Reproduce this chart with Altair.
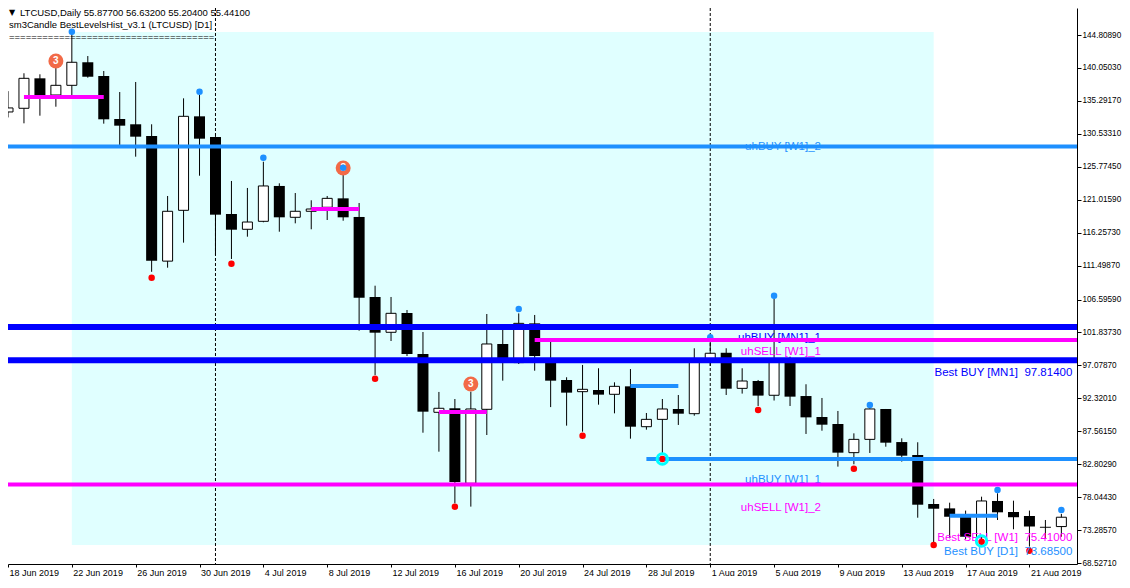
import altair as alt
import pandas as pd

# ---------------- data ----------------
dates = pd.date_range("2019-06-18", periods=67, freq="D").strftime("%Y-%m-%d").tolist()

opens = [133.69, 134.22, 138.55, 136.14, 137.54, 140.87, 138.89, 132.67, 131.91, 130.22,
         112.14, 119.48, 133.06, 130.07, 118.95, 116.74, 117.89, 123.00, 118.47, 119.34,
         119.92, 121.21, 118.52, 106.96, 101.86, 104.65, 98.72, 90.30, 90.88, 80.04,
         90.73, 100.17, 97.48, 103.15, 97.61, 94.97, 93.28, 93.52, 92.90, 94.05,
         88.22, 89.28, 90.78, 90.10, 97.90, 98.90, 93.76, 94.82, 92.76, 97.61,
         92.65, 89.62, 88.61, 84.47, 86.39, 90.78, 86.00, 84.13, 77.05, 76.42,
         75.21, 72.32, 77.49, 75.90, 75.33, 73.76, 73.79]
highs = [136.70, 139.28, 139.13, 140.23, 145.05, 141.77, 139.61, 136.57, 138.02, 131.91,
         121.55, 135.66, 136.14, 130.20, 123.72, 122.71, 126.50, 123.38, 121.98, 120.93,
         121.55, 124.83, 120.54, 108.59, 106.96, 105.08, 101.90, 93.24, 92.22, 93.28,
         104.50, 102.19, 104.59, 104.36, 100.50, 95.36, 97.14, 96.66, 94.63, 96.55,
         90.20, 92.22, 92.80, 99.55, 100.60, 99.55, 96.66, 94.97, 106.78, 98.33,
         94.35, 92.37, 90.49, 87.26, 90.88, 90.78, 86.54, 85.97, 77.78, 77.24,
         76.10, 78.11, 78.60, 77.53, 76.10, 74.74, 75.62]
lows = [132.90, 132.05, 133.15, 134.45, 136.14, 138.64, 132.00, 128.92, 127.23, 110.60,
        111.19, 114.81, 124.48, 113.03, 112.45, 115.67, 117.75, 116.39, 117.60, 116.74,
        118.08, 117.98, 102.09, 95.69, 100.60, 98.43, 87.35, 84.61, 77.15, 76.67,
        87.02, 94.87, 97.28, 96.31, 91.05, 88.37, 87.50, 91.40, 90.15, 86.49,
        87.79, 84.20, 88.47, 89.81, 97.00, 92.80, 93.00, 91.21, 92.00, 91.21,
        87.17, 87.64, 82.45, 82.79, 84.42, 85.33, 83.18, 75.07, 71.40, 72.10,
        71.95, 71.90, 74.74, 73.40, 70.90, 72.10, 72.32]
closes = [134.27, 138.55, 136.14, 137.54, 140.87, 138.78, 132.63, 131.71, 130.12, 112.20,
          119.34, 133.06, 129.83, 118.85, 116.68, 117.79, 123.00, 118.47, 119.34, 119.67,
          121.21, 118.47, 106.85, 101.80, 104.60, 98.72, 90.39, 90.88, 80.23, 90.78,
          100.17, 97.48, 103.15, 98.43, 94.87, 93.14, 93.62, 92.85, 94.05, 88.22,
          89.28, 90.78, 90.10, 97.86, 98.83, 93.71, 94.82, 92.71, 97.61, 92.56,
          89.57, 88.51, 84.47, 86.39, 90.78, 85.91, 84.03, 76.95, 76.37, 75.21,
          72.32, 77.49, 75.85, 75.14, 73.79, 73.62, 75.14]

# markers (index of the day, price of the marker)
blue_dot_idx = [4, 12, 16, 21, 32, 44, 48, 54, 62, 66]
blue_dot_price = [145.29, 136.62, 127.08, 125.64, 105.22, 101.14, 107.15, 91.35, 79.08, 76.19]
red_dot_idx = [9, 14, 23, 28, 36, 41, 47, 53, 58, 61, 64]
red_dot_price = [109.75, 111.77, 95.16, 76.67, 86.92, 83.56, 90.63, 82.15, 71.13, 71.61, 70.31]
orange_idx = [3, 21, 29]
orange_price = [141.05, 125.59, 94.39]
ring_idx = [41, 61]
ring_price = [83.56, 71.70]

# full-width levels
full_price = [128.70, 102.62, 97.814, 79.87]
full_color = ["#1E90FF", "#0000FF", "#0000FF", "#FF00FF"]
full_width = [4, 6, 6, 4]

# partial levels (start day index, end day index, -1 = right edge)
seg_start = [1, 19, 27, 39, 59, 33, 40]
seg_end = [6, 22, 30, 42, 62, -1, -1]
seg_price = [135.85, 119.67, 90.34, 94.10, 75.36, 100.74, 83.55]
seg_color = ["#FF00FF", "#FF00FF", "#FF00FF", "#1E90FF", "#1E90FF", "#FF00FF", "#1E90FF"]

# level labels: names in the middle (right-aligned), "Best" values at the right edge
mid_text = ["uhBUY [W1]_2", "uhBUY [MN1]_1", "uhSELL [W1]_1", "uhBUY [W1]_1", "uhSELL [W1]_2"]
mid_price = [128.70, 100.99, 99.06, 80.52, 76.43]
mid_color = ["#1E90FF", "#0000FF", "#FF00FF", "#1E90FF", "#FF00FF"]
mid_idx = 51
best_text = ["Best BUY [MN1]\u00a0\u00a097.81400", "Best SELL [W1]\u00a0\u00a075.41000",
             "Best BUY [D1]\u00a0\u00a073.68500"]
best_price = [95.93, 72.10, 70.16]
best_color = ["#0000FF", "#FF00FF", "#1E90FF"]
best_idx = 66

# background zone and separators
zone_start, zone_end = "2019-06-22", "2019-08-15"
zone_top, zone_bottom = 145.24, 71.13
separators = ["2019-07-01", "2019-08-01"]

ytick_values = [144.80890, 140.05030, 135.29170, 130.53310, 125.77450, 121.01590, 116.25730,
                111.49870, 106.59590, 101.83730, 97.07870, 92.32010, 87.56150, 82.80290,
                78.04430, 73.28570, 68.52710]
xtick_dates = dates[::4]

header1 = "LTCUSD,Daily  55.87700 56.63200 55.20400 55.44100"
header2 = "sm3Candle BestLevelsHist_v3.1  (LTCUSD) [D1]"
header3 = "=" * 37

# ---------------- scales / axes ----------------
def ms(s):
    return int(pd.Timestamp(s, tz="UTC").value // 10**6)

x_lo, x_hi = "2019-06-18T00:00:00", "2019-08-23T23:31:00"
y_lo, y_hi = 68.383, 148.710

XS = alt.Scale(type="utc", domain=[ms(x_lo), ms(x_hi)], nice=False, padding=0)
YS = alt.Scale(domain=[y_lo, y_hi], nice=False, zero=False, padding=0)
FONT = "Liberation Sans"
XA = alt.Axis(values=[ms(d) for d in xtick_dates], format="%-d %b %Y", labelAlign="left",
              labelOffset=1, tickSize=3, labelPadding=1, grid=False, domainColor="black",
              tickColor="black", labelColor="black", labelFont=FONT, labelFontSize=9,
              labelFlush=False, labelOverlap=False, title=None)
YA = alt.Axis(orient="right", values=ytick_values, format=".5f", tickSize=4, labelPadding=1,
              grid=False, domainColor="black", tickColor="black", labelColor="black",
              labelFont=FONT, labelFontSize=8.2, labelOverlap=False, labelFlush=False, title=None)


def X(f):
    return alt.X(f"{f}:T", scale=XS, axis=XA, title=None)


def X2(f):
    return alt.X2(f"{f}:T")


def Y(f):
    return alt.Y(f"{f}:Q", scale=YS, axis=YA, title=None)


def Y2(f):
    return alt.Y2(f"{f}:Q")


# ---------------- tables ----------------
ohlc = pd.DataFrame({"date": dates, "open": opens, "high": highs, "low": lows, "close": closes})
up = ohlc[ohlc.close >= ohlc.open]
down = ohlc[ohlc.close < ohlc.open]

zone = pd.DataFrame({"s": [zone_start], "e": [zone_end], "t": [zone_top], "b": [zone_bottom]})
seps = pd.DataFrame({"date": separators})
blue = pd.DataFrame({"date": [dates[i] for i in blue_dot_idx], "p": blue_dot_price})
red = pd.DataFrame({"date": [dates[i] for i in red_dot_idx], "p": red_dot_price})
orange = pd.DataFrame({"date": [dates[i] for i in orange_idx], "p": orange_price})
rings = pd.DataFrame({"date": [dates[i] for i in ring_idx], "p": ring_price})
full = pd.DataFrame({"p": full_price, "c": full_color, "w": full_width})
segs = pd.DataFrame({
    "s": [dates[i] for i in seg_start],
    "e": [dates[i] if i >= 0 else x_hi for i in seg_end],
    "p": seg_price, "c": seg_color,
})
mid_labels = pd.DataFrame({"date": dates[mid_idx], "p": mid_price, "t": mid_text, "c": mid_color})
best_labels = pd.DataFrame({"date": dates[best_idx], "p": best_price, "t": best_text, "c": best_color})

# ---------------- layers ----------------
zone_l = alt.Chart(zone).mark_rect(color="#E0FFFF").encode(
    x=X("s"), x2=X2("e"), y=Y("t"), y2=Y2("b"))
sep_l = alt.Chart(seps).mark_rule(color="black", strokeWidth=1, strokeDash=[3, 2]).encode(x=X("date"))
wick_l = alt.Chart(ohlc).mark_rule(color="black", strokeWidth=1).encode(
    x=X("date"), y=Y("low"), y2=Y2("high"))
up_l = alt.Chart(up).mark_bar(size=10, fill="white", stroke="black", strokeWidth=1).encode(
    x=X("date"), y=Y("open"), y2=Y2("close"))
down_l = alt.Chart(down).mark_bar(size=11, fill="black", minBandSize=1).encode(
    x=X("date"), y=Y("open"), y2=Y2("close"))
orange_l = alt.Chart(orange).mark_circle(size=225, color="#F26A47", opacity=1).encode(
    x=X("date"), y=Y("p"))
orange_t = alt.Chart(orange).mark_text(text="3", color="white", fontWeight="bold", fontSize=10,
                                       font=FONT, baseline="middle").encode(x=X("date"), y=Y("p"))
blue_l = alt.Chart(blue).mark_circle(size=42, color="#1E90FF", opacity=1).encode(x=X("date"), y=Y("p"))
red_l = alt.Chart(red).mark_circle(size=42, color="#FF0000", opacity=1).encode(x=X("date"), y=Y("p"))
mid_l = alt.Chart(mid_labels).mark_text(align="right", baseline="middle", font=FONT, fontSize=11.5,
                                        dx=-1).encode(
    x=X("date"), y=Y("p"), text="t:N", color=alt.Color("c:N", scale=None))
best_l = alt.Chart(best_labels).mark_text(align="right", baseline="middle", font=FONT, fontSize=11.5,
                                          dx=11).encode(
    x=X("date"), y=Y("p"), text="t:N", color=alt.Color("c:N", scale=None))
full_l = alt.Chart(full).mark_rule().encode(
    y=Y("p"), color=alt.Color("c:N", scale=None), strokeWidth=alt.StrokeWidth("w:Q", scale=None))
seg_l = alt.Chart(segs).mark_rule(strokeWidth=4).encode(
    x=X("s"), x2=X2("e"), y=Y("p"), color=alt.Color("c:N", scale=None))
ring_l = alt.Chart(rings).mark_point(shape="circle", filled=False, size=110, strokeWidth=3,
                                     color="#00FFFF", opacity=1).encode(x=X("date"), y=Y("p"))
red_top = alt.Chart(red[red.date.isin(rings.date)]).mark_circle(size=30, color="#FF0000", opacity=1).encode(
    x=X("date"), y=Y("p"))

h_tri = alt.Chart(pd.DataFrame({"t": ["\u25bc"]})).mark_text(
    align="left", baseline="middle", font="DejaVu Sans", fontSize=8, color="black").encode(
    text="t:N", x=alt.value(1), y=alt.value(5))
h1 = alt.Chart(pd.DataFrame({"t": [header1]})).mark_text(
    align="left", baseline="middle", font=FONT, fontSize=9.5, color="black").encode(
    text="t:N", x=alt.value(12), y=alt.value(5))
h2 = alt.Chart(pd.DataFrame({"t": [header2]})).mark_text(
    align="left", baseline="middle", font=FONT, fontSize=9.5, color="black").encode(
    text="t:N", x=alt.value(1), y=alt.value(17))
h3 = alt.Chart(pd.DataFrame({"t": [header3]})).mark_text(
    align="left", baseline="middle", font=FONT, fontSize=9.5, color="black").encode(
    text="t:N", x=alt.value(1), y=alt.value(29))

chart = alt.layer(
    zone_l, sep_l, wick_l, up_l, down_l, orange_l, orange_t, blue_l, red_l,
    mid_l, best_l, full_l, seg_l, ring_l, red_top, h_tri, h1, h2, h3,
).properties(
    width=1069, height=556, autosize="none",
    padding={"left": 0, "top": 0, "right": 45, "bottom": 12},
    background="white",
).configure_view(strokeWidth=0)

chart.save("out.html", embed_options={"renderer": "svg", "actions": False})
